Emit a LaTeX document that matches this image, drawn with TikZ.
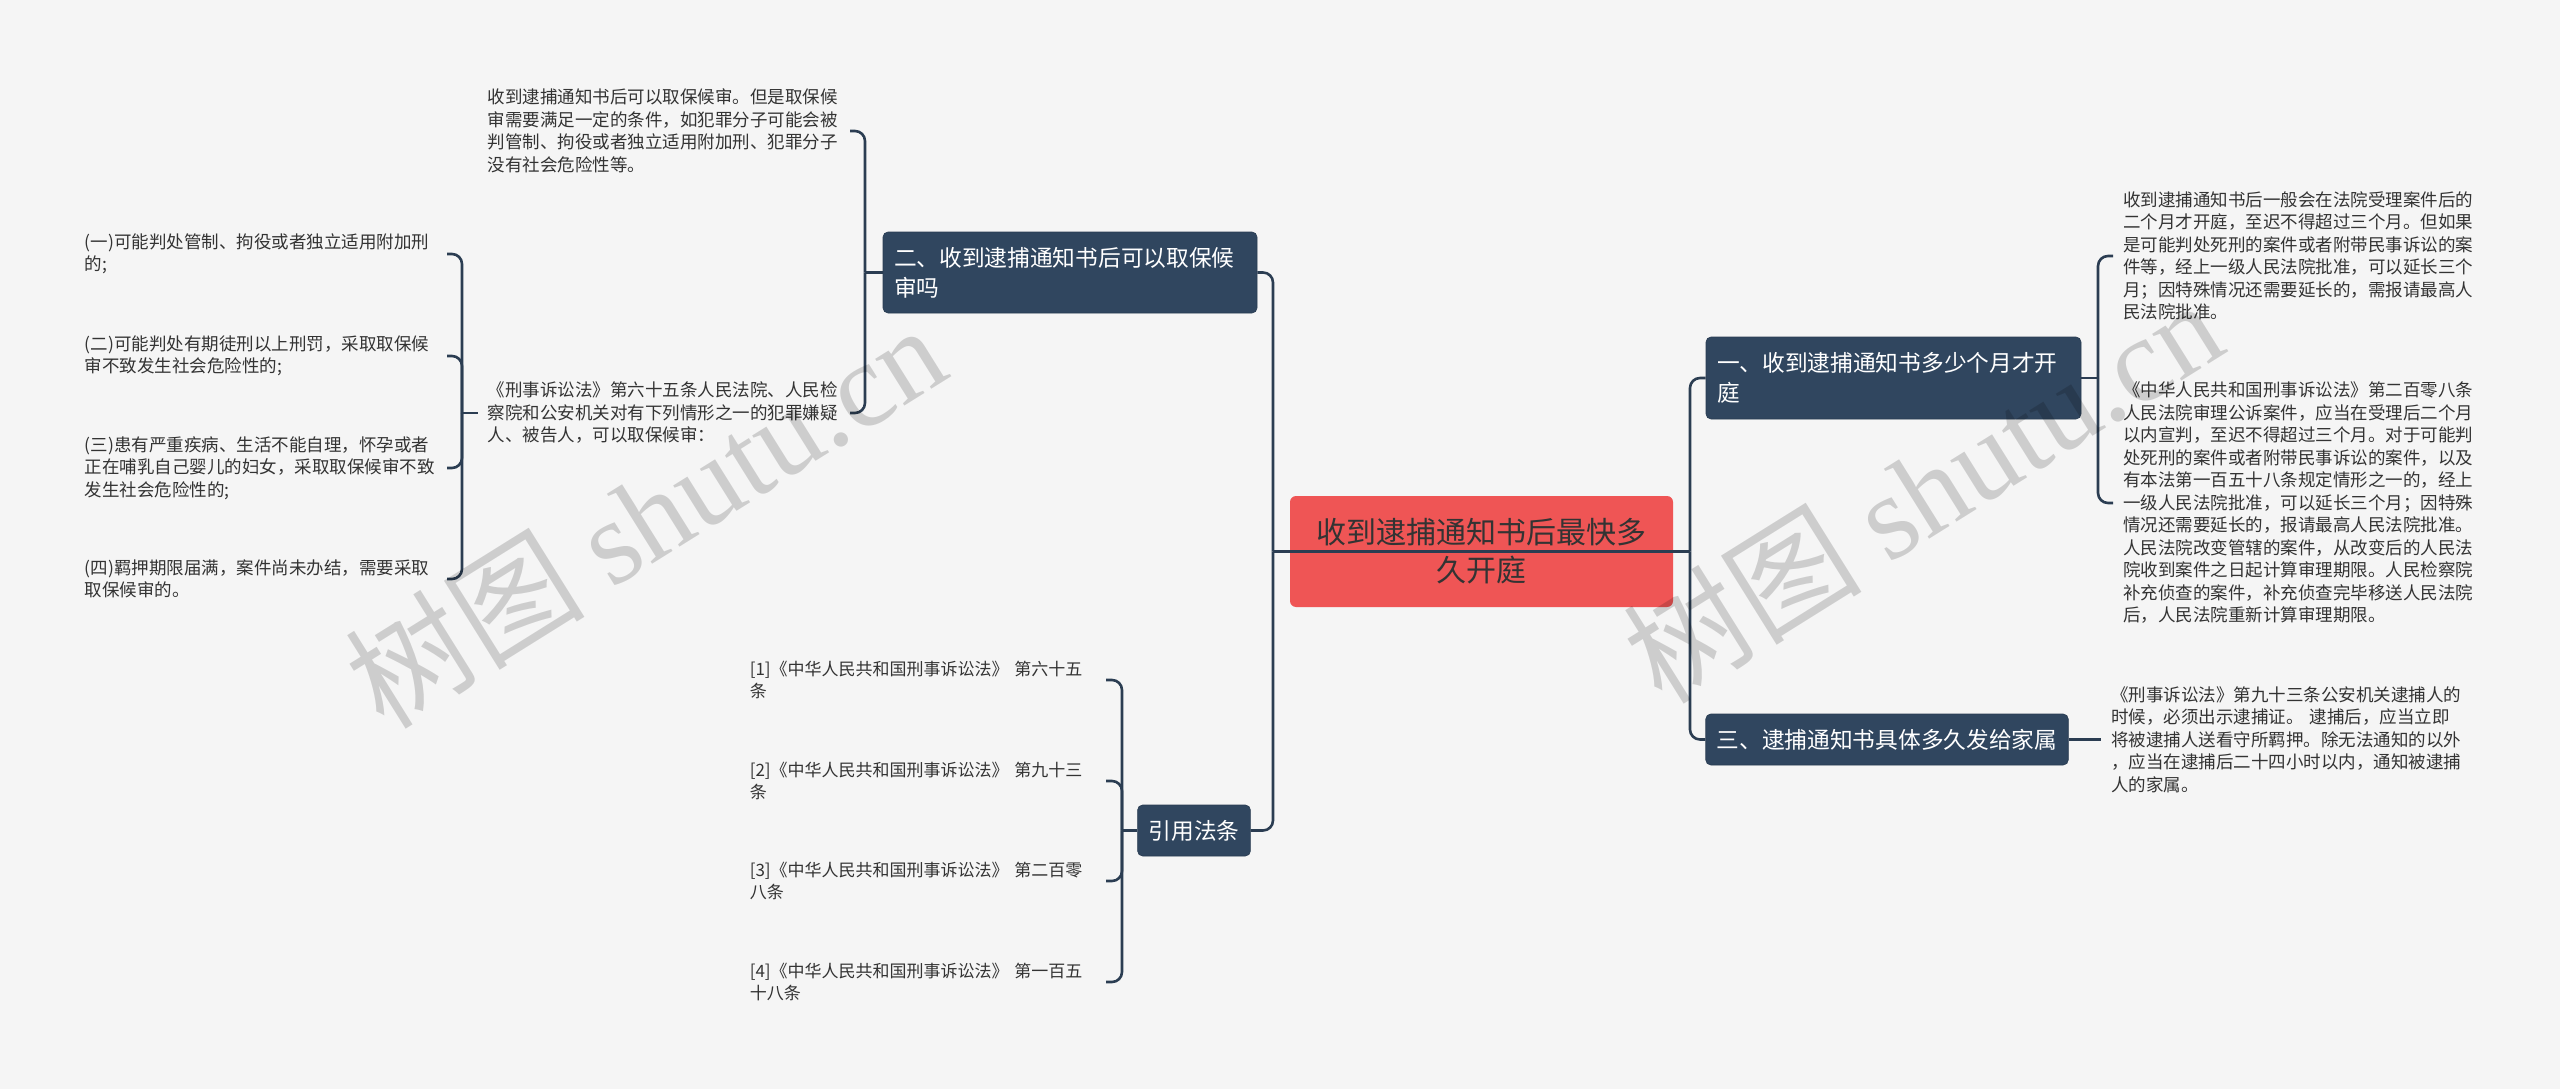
\documentclass[tikz,border=0pt]{standalone}
\usepackage{fontspec}
\setmainfont{Noto Sans CJK SC}
\newfontfamily\wmserif{Liberation Serif}
\definecolor{bgc}{HTML}{F5F5F5}
\definecolor{navy}{HTML}{30465F}
\definecolor{linec}{HTML}{2B3D52}
\definecolor{rootc}{HTML}{EF5555}
\definecolor{txt}{HTML}{333333}
\begin{document}
\begin{tikzpicture}[x=1pt,y=-1pt,
  conn/.style={draw=linec,line width=2.6pt,rounded corners=10pt},
  leaf/.style={inner xsep=10pt,inner ysep=2pt,text=txt,align=left,text width=#1,font=\fontsize{17.5}{22.5}\selectfont},
  leaf/.default=352pt,
  branch/.style={fill=navy,draw=navy!85!black,line width=0.6pt,rounded corners=5pt,text=white,inner xsep=11pt,inner ysep=0pt,align=left,font=\fontsize{22.7}{30}\selectfont},
  rootbox/.style={fill=rootc,rounded corners=6pt,text=txt,inner sep=0pt,align=center,minimum width=383pt,minimum height=111pt,font=\fontsize{30}{38}\selectfont},
  wm/.style={text=black,opacity=0.16,font=\fontsize{120}{120}\selectfont,inner sep=0pt}]
\fill[bgc] (0,0) rectangle (2560,1089);
\useasboundingbox (0,0) rectangle (2560,1089);

% root and branches
\node[rootbox] (root) at (1481.5,551.5) {收到逮捕通知书后最快多\\久开庭};
\node[branch,text width=352pt,minimum height=81pt] (b2) at (1070,272.5) {二、收到逮捕通知书后可以取保候\\审吗};
\node[branch,minimum width=110pt,minimum height=51pt,align=center] (b4) at (1194,830.5) {引用法条};
\node[branch,text width=353pt,minimum height=82pt] (b1) at (1893.5,378) {一、收到逮捕通知书多少个月才开\\庭};
\node[branch,minimum width=362pt,minimum height=51pt] (b3) at (1887,739.5) {三、逮捕通知书具体多久发给家属};

% leaves of b2
\node[leaf,anchor=east] (L1) at (850,131) {收到逮捕通知书后可以取保候审。但是取保候\\审需要满足一定的条件，如犯罪分子可能会被\\判管制、拘役或者独立适用附加刑、犯罪分子\\没有社会危险性等。};
\node[leaf,anchor=east] (L2) at (850,413) {《刑事诉讼法》第六十五条人民法院、人民检\\察院和公安机关对有下列情形之一的犯罪嫌疑\\人、被告人，可以取保候审：};

% leaves of L2
\node[leaf,anchor=east] (c1) at (447,254) {(一)可能判处管制、拘役或者独立适用附加刑\\的;};
\node[leaf,anchor=east] (c2) at (447,356) {(二)可能判处有期徒刑以上刑罚，采取取保候\\审不致发生社会危险性的;};
\node[leaf,anchor=east] (c3) at (447,468) {(三)患有严重疾病、生活不能自理，怀孕或者\\正在哺乳自己婴儿的妇女，采取取保候审不致\\发生社会危险性的;};
\node[leaf,anchor=east] (c4) at (447,579) {(四)羁押期限届满，案件尚未办结，需要采取\\取保候审的。};

% leaves of b4
\tikzset{refleaf/.style={leaf=346pt,anchor=east,font=\fontsize{17}{22.5}\selectfont}}
\node[refleaf] (f1) at (1106,680) {[1]《中华人民共和国刑事诉讼法》 第六十五\\条};
\node[refleaf] (f2) at (1106,781) {[2]《中华人民共和国刑事诉讼法》 第九十三\\条};
\node[refleaf] (f3) at (1106,881) {[3]《中华人民共和国刑事诉讼法》 第二百零\\八条};
\node[refleaf] (f4) at (1106,982) {[4]《中华人民共和国刑事诉讼法》 第一百五\\十八条};

% leaves of b1
\node[leaf=360pt,anchor=west] (R1) at (2113,256) {收到逮捕通知书后一般会在法院受理案件后的\\二个月才开庭，至迟不得超过三个月。但如果\\是可能判处死刑的案件或者附带民事诉讼的案\\件等，经上一级人民法院批准，可以延长三个\\月；因特殊情况还需要延长的，需报请最高人\\民法院批准。};
\node[leaf=360pt,anchor=west] (R2) at (2113,503) {《中华人民共和国刑事诉讼法》第二百零八条\\人民法院审理公诉案件，应当在受理后二个月\\以内宣判，至迟不得超过三个月。对于可能判\\处死刑的案件或者附带民事诉讼的案件，以及\\有本法第一百五十八条规定情形之一的，经上\\一级人民法院批准，可以延长三个月；因特殊\\情况还需要延长的，报请最高人民法院批准。\\人民法院改变管辖的案件，从改变后的人民法\\院收到案件之日起计算审理期限。人民检察院\\补充侦查的案件，补充侦查完毕移送人民法院\\后，人民法院重新计算审理期限。};

% leaf of b3
\node[leaf=360pt,anchor=west] (R3) at (2101,739.5) {《刑事诉讼法》第九十三条公安机关逮捕人的\\时候，必须出示逮捕证。 逮捕后，应当立即\\将被逮捕人送看守所羁押。除无法通知的以外\\，应当在逮捕后二十四小时以内，通知被逮捕\\人的家属。};

% bus coordinates
\coordinate (busL) at (1273,551.5);
\coordinate (busR) at (1690,551.5);
\coordinate (bus2) at (865,272.5);
\coordinate (bus3) at (462,413);
\coordinate (bus4) at (1122,830.5);
\coordinate (bus1) at (2098,378);

% connectors
\draw[conn] (busL) -- (busR);
\draw[conn] (busL) |- (b2.east);
\draw[conn] (busL) |- (b4.east);
\draw[conn] (busR) |- (b1.west);
\draw[conn] (busR) |- (b3.west);

\draw[conn] (b2.west) -- (bus2);
\draw[conn] (bus2) |- (L1.east);
\draw[conn] (bus2) |- (L2.east);

\draw[conn] (L2.west) -- (bus3);
\foreach \n in {c1,c2,c3,c4} \draw[conn] (bus3) |- (\n.east);

\draw[conn] (b4.west) -- (bus4);
\foreach \n in {f1,f2,f3,f4} \draw[conn] (bus4) |- (\n.east);

\draw[conn] (b1.east) -- (bus1);
\draw[conn] (bus1) |- (R1.west);
\draw[conn] (bus1) |- (R2.west);

\draw[conn] (b3.east) -- (R3.west);

% watermarks
\node[wm,rotate=32] (wm1) at (645,515) {树图 {\wmserif shutu.cn}};
\node[wm,rotate=32] (wm2) at (1922,490) {树图 {\wmserif shutu.cn}};
\end{tikzpicture}
\end{document}
